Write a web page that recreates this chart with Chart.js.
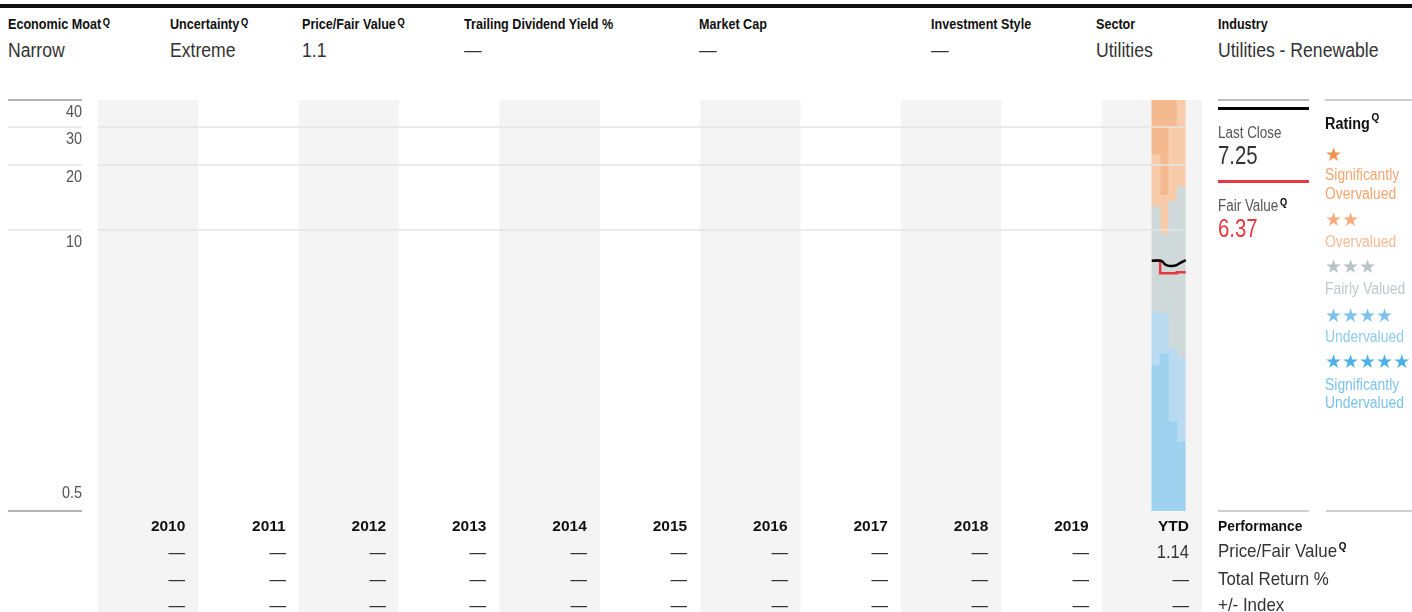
<!DOCTYPE html>
<html><head><meta charset="utf-8">
<script src="https://cdn.jsdelivr.net/npm/chart.js@4.4.1/dist/chart.umd.min.js"></script>
<style>
html,body{margin:0;padding:0;background:#fff;}
body{width:1412px;height:612px;position:relative;overflow:hidden;font-family:'Liberation Sans',Arial,sans-serif;}
.t{position:absolute;white-space:nowrap;line-height:1;}
.q{font-size:11px;font-weight:bold;vertical-align:top;position:relative;top:1px;margin-left:2px;color:#000;}
.rule{position:absolute;}
.star{font-family:'DejaVu Sans',sans-serif;letter-spacing:0px;}
#c{position:absolute;left:0;top:90px;}
</style></head><body>
<div class="rule" style="left:0;top:4px;width:1412px;height:4px;background:#111"></div>
<div class="rule" style="left:1218px;top:99px;width:91px;height:2px;background:#bdbdbd"></div>
<div class="rule" style="left:1218px;top:107px;width:91px;height:3px;background:#000"></div>
<div class="rule" style="left:1218px;top:180px;width:91px;height:3px;background:#e5383f"></div>
<div class="rule" style="left:1325px;top:99px;width:87px;height:2px;background:#cfcfcf"></div>
<div class="rule" style="left:1218px;top:510px;width:91px;height:2px;background:#cfcfcf"></div>
<div class="rule" style="left:1326px;top:510px;width:86px;height:2px;background:#cfcfcf"></div>
<canvas id="c" width="1412" height="522"></canvas>
<script>
// ---------- data ----------
const headerLabels = ['Economic Moat','Uncertainty','Price/Fair Value','Trailing Dividend Yield %','Market Cap','Investment Style','Sector','Industry'];
const headerValues = ['Narrow','Extreme','1.1','—','—','—','Utilities','Utilities - Renewable'];
const headerHasQ = [true,true,true,false,false,false,false,false];

const years = ['2010','2011','2012','2013','2014','2015','2016','2017','2018','2019','YTD'];
const yearStarts = [2010,2011,2012,2013,2014,2015,2016,2017,2018,2019,2020];
const yTicks = [0.5,10,20,30,40];

// monthly star-rating price bands (Jul..Oct, YTD)
const monthStarts = [2020.5,2020.5833,2020.6667,2020.75];
const sigUnderTop = [2.37,2.67,1.30,1.04];
const underTop    = [4.17,4.09,2.81,2.56];
const fairTop     = [12.8,9.56,13.6,15.8];
const overTop     = [22.3,14.5,29.9,48];

// last close & fair value
const closeDates  = [2020.50,2020.55,2020.60,2020.63,2020.66,2020.70,2020.74,2020.78,2020.838];
const closeValues = [7.21,7.22,7.18,6.95,6.84,6.82,6.86,7.02,7.25];
const fvDates  = [2020.50,2020.5833,2020.75,2020.838];
const fvValues = [7.20,6.31,6.37,6.37];

// performance table
const rowLabels = ['Price/Fair Value','Total Return %','+/- Index'];
const rowHasQ = [true,false,false];
const pfvRow = ['—','—','—','—','—','—','—','—','—','—','1.14'];
const totalReturnRow = ['—','—','—','—','—','—','—','—','—','—','—'];
const indexRow = ['—','—','—','—','—','—','—','—','—','—','—'];

const lastClose = '7.25';
const fairValue = '6.37';
const ratingLevels = [
  {stars:'★', lines:['Significantly','Overvalued'], sc:'#f39150', tc:'#f5a56f'},
  {stars:'★★', lines:['Overvalued'], sc:'#f6ac7c', tc:'#f7b993'},
  {stars:'★★★', lines:['Fairly Valued'], sc:'#b9c4c6', tc:'#bfc9cb'},
  {stars:'★★★★', lines:['Undervalued'], sc:'#7fc2ec', tc:'#8ecbee'},
  {stars:'★★★★★', lines:['Significantly','Undervalued'], sc:'#4fb0e8', tc:'#7dc2ec'}
];
const ratingStarBase = [161,226,273.5,322,368.5];
const ratingTextBase = [[181,200],[247.5],[295],[342.5],[390.5,409]];

// ---------- helpers ----------
const FONT = "'Liberation Sans', Arial, sans-serif";
function addText(txt, x, base, size, o = {}) {
  const d = document.createElement('div');
  d.className = 't' + (o.cls ? ' ' + o.cls : '');
  d.style.fontSize = size + 'px';
  d.style.fontWeight = o.weight || 'normal';
  d.style.color = o.color || '#333';
  d.style.top = (base - 0.8465 * size) + 'px';
  const sx = o.sx === undefined ? 0.87 : o.sx;
  if (o.align === 'right') { d.style.right = (1412 - x) + 'px'; d.style.transformOrigin = 'right center'; }
  else { d.style.left = x + 'px'; d.style.transformOrigin = 'left center'; }
  d.style.transform = 'scaleX(' + sx + ')';
  d.textContent = txt;
  if (o.q) { const s = document.createElement('span'); s.className = 'q'; s.textContent = 'Q'; if (o.qTop !== undefined) s.style.top = o.qTop + 'px'; d.appendChild(s); }
  document.body.appendChild(d);
}

// header
const headerX = [8,170,302,464,699,931,1096,1218];
headerLabels.forEach((l,i) => addText(l, headerX[i], 28.5, 15, {weight:'bold', color:'#111', q:headerHasQ[i], sx:0.84}));
headerValues.forEach((v,i) => addText(v, headerX[i], 57, 20, {color:'#333', sx:0.88}));

// legend
addText('Last Close', 1218, 139, 16, {color:'#555', sx:0.84});
addText(lastClose, 1218, 164.5, 25.5, {color:'#333', sx:0.8});
addText('Fair Value', 1218, 211.5, 16, {color:'#555', q:true, qTop:-1, sx:0.84});
addText(fairValue, 1218, 237.5, 25.5, {color:'#e5383f', sx:0.8});
addText('Rating', 1325, 129.5, 16, {weight:'bold', color:'#111', q:true, qTop:-4, sx:0.9});
ratingLevels.forEach((r,k) => {
  addText(r.stars, 1325, ratingStarBase[k], 19, {color:r.sc, cls:'star', sx:1});
  r.lines.forEach((t,j) => addText(t, 1325, ratingTextBase[k][j], 16, {color:r.tc, sx:0.87}));
});

// performance labels
addText('Performance', 1218, 531, 15, {weight:'bold', color:'#111', sx:0.92});
rowLabels.forEach((l,i) => addText(l, 1218, [557,585,611][i], 19, {color:'#333', q:rowHasQ[i], qTop:0, sx:0.89}));

// ---------- chart ----------
const yMax = yTicks[yTicks.length-1], yMin = yTicks[0];
const pts = (xs, lo, hi) => xs.map((m,i) => ({x: m + 1/24, y: [lo[i], hi[i]]}));
const floor = monthStarts.map(() => yMin);
const ceil = monthStarts.map(() => yMax);
const band = (label, data, color) => ({type:'bar', label, data, backgroundColor:color, borderWidth:0, grouped:false, barPercentage:1, categoryPercentage:1, order:5});

const bgPlugin = {
  id:'bg',
  beforeDraw(chart) {
    const {ctx, chartArea:a, scales:{x}} = chart;
    ctx.save();
    ctx.fillStyle = '#f4f4f4';
    yearStarts.forEach((v,i) => {
      if (i % 2) return;
      const l = x.getPixelForValue(v), r = x.getPixelForValue(v+1);
      ctx.fillRect(l, a.top, r - l, chart.height - a.top);
    });
    ctx.restore();
  },
  afterDatasetsDraw(chart) {
    const {ctx, chartArea:a, scales:{x,y}} = chart;
    const end = x.getPixelForValue(closeDates[closeDates.length-1]);
    ctx.save();
    yTicks.forEach(v => {
      const py = Math.round(y.getPixelForValue(v));
      const edge = (v === yMin || v === yMax);
      ctx.strokeStyle = edge ? '#b3b3b3' : '#e4e4e4';
      ctx.lineWidth = edge ? 2 : 1.5;
      ctx.beginPath(); ctx.moveTo(8, py); ctx.lineTo(82, py); ctx.stroke();
      if (!edge) { ctx.beginPath(); ctx.moveTo(a.left, py); ctx.lineTo(end, py); ctx.stroke(); }
      ctx.save();
      ctx.fillStyle = '#555';
      ctx.font = "17px " + FONT;
      ctx.textAlign = 'right';
      ctx.textBaseline = 'alphabetic';
      ctx.translate(82, v === yMin ? py - 13 : py + 17);
      ctx.scale(0.85, 1);
      ctx.fillText(String(v), 0, 0);
      ctx.restore();
    });
    ctx.restore();
  }
};

const chart = new Chart(document.getElementById('c'), {
  type:'bar',
  data:{datasets:[
    {type:'line', label:'Last Close', data: closeDates.map((d,i)=>({x:d, y:closeValues[i]})), borderColor:'#000', borderWidth:2.5, pointRadius:0, tension:0.35, fill:false, order:0},
    {type:'line', label:'Fair Value', data: fvDates.map((d,i)=>({x:d, y:fvValues[i]})), borderColor:'#e5383f', borderWidth:2.5, pointRadius:0, stepped:true, fill:false, order:1},
    band('Significantly Undervalued', pts(monthStarts, floor, sigUnderTop), '#9fd2ef'),
    band('Undervalued', pts(monthStarts, sigUnderTop, underTop), '#b8dbf2'),
    band('Fairly Valued', pts(monthStarts, underTop, fairTop), '#d0d9da'),
    band('Overvalued', pts(monthStarts, fairTop, overTop), '#f8cbaa'),
    band('Significantly Overvalued', pts(monthStarts, overTop, ceil), '#f5b98f')
  ]},
  options:{
    responsive:false, animation:false, devicePixelRatio:1,
    layout:{padding:{left:98, right:210, top:10, bottom:0}},
    plugins:{legend:{display:false}, tooltip:{enabled:false}},
    scales:{
      x:{type:'linear', min:yearStarts[0], max:yearStarts[yearStarts.length-1]+1, offset:false,
         grid:{display:false, drawTicks:false}, border:{display:false},
         afterBuildTicks:s => { s.ticks = yearStarts.map(v => ({value:v+1})); },
         afterFit:s => { s.height = 101; },
         ticks:{autoSkip:false, maxRotation:0, minRotation:0, align:'end', labelOffset:-13, padding:6, color:'#111',
                font:{family:FONT, size:15.5, weight:'bold'}, callback:(v,i) => years[i]}},
      y:{type:'logarithmic', display:false, min:yMin, max:yMax,
         afterBuildTicks:s => { s.ticks = yTicks.map(v => ({value:v})); }}
    }
  },
  plugins:[bgPlugin]
});

// table rows under the chart, aligned to the x scale columns
const xs = chart.scales.x;
[pfvRow, totalReturnRow, indexRow].forEach((row, r) => {
  row.forEach((v, i) => {
    const right = xs.getPixelForValue(yearStarts[i] + 1) - 13;
    addText(v, right, [558,585,611][r], 19, {align:'right', color:'#333', sx:0.87});
  });
});
</script>
</body></html>
